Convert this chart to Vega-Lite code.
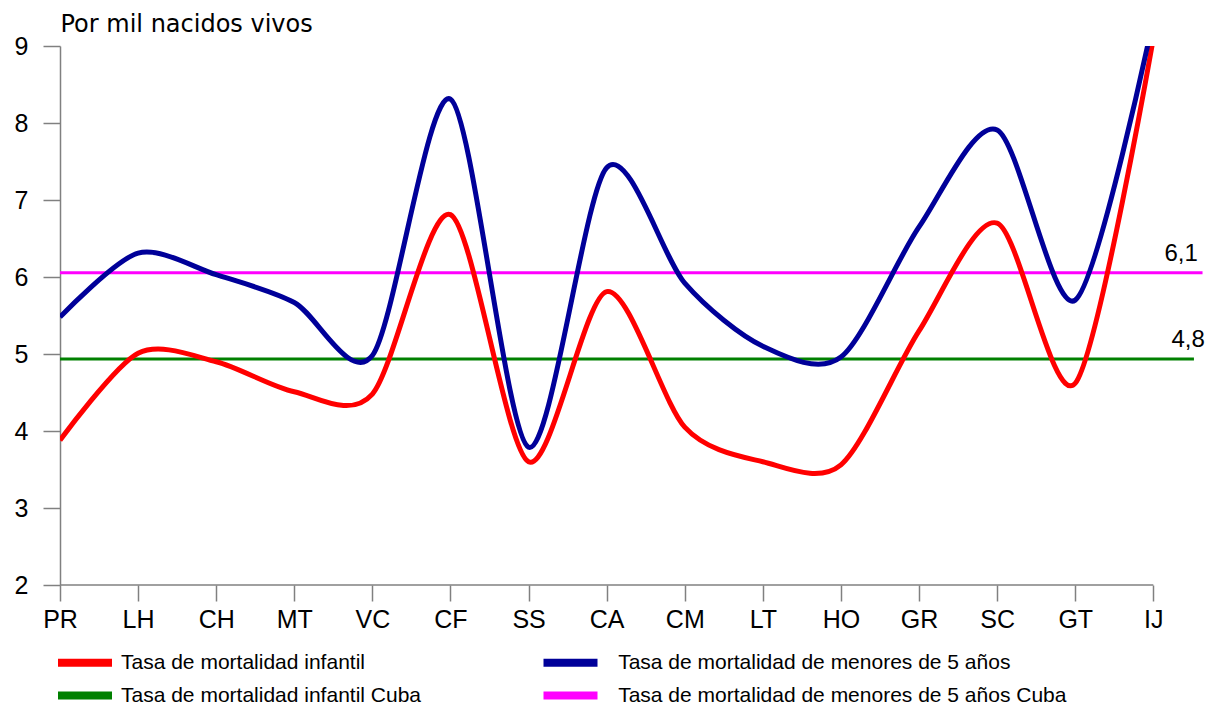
{
  "$schema": "https://vega.github.io/schema/vega-lite/v6.json",
  "width": 1148,
  "height": 539,
  "autosize": {"type": "none"},
  "padding": {"left": 60, "top": 46, "right": 0, "bottom": 119},
  "config": {"view": {"stroke": null}, "font": "Liberation Sans"},
  "datasets": {
    "series": [
      {"i": 0, "cat": "PR", "serie": "Tasa de mortalidad infantil", "v": 3.88},
      {"i": 1, "cat": "LH", "serie": "Tasa de mortalidad infantil", "v": 5.01},
      {"i": 2, "cat": "CH", "serie": "Tasa de mortalidad infantil", "v": 4.9},
      {"i": 3, "cat": "MT", "serie": "Tasa de mortalidad infantil", "v": 4.51},
      {"i": 4, "cat": "VC", "serie": "Tasa de mortalidad infantil", "v": 4.48},
      {"i": 5, "cat": "CF", "serie": "Tasa de mortalidad infantil", "v": 6.81},
      {"i": 6, "cat": "SS", "serie": "Tasa de mortalidad infantil", "v": 3.6},
      {"i": 7, "cat": "CA", "serie": "Tasa de mortalidad infantil", "v": 5.81},
      {"i": 8, "cat": "CM", "serie": "Tasa de mortalidad infantil", "v": 4.05},
      {"i": 9, "cat": "LT", "serie": "Tasa de mortalidad infantil", "v": 3.6},
      {"i": 10, "cat": "HO", "serie": "Tasa de mortalidad infantil", "v": 3.56},
      {"i": 11, "cat": "GR", "serie": "Tasa de mortalidad infantil", "v": 5.3},
      {"i": 12, "cat": "SC", "serie": "Tasa de mortalidad infantil", "v": 6.7},
      {"i": 13, "cat": "GT", "serie": "Tasa de mortalidad infantil", "v": 4.62},
      {"i": 14, "cat": "IJ", "serie": "Tasa de mortalidad infantil", "v": 9.1},
      {"i": 0, "cat": "PR", "serie": "Tasa de mortalidad de menores de 5 años", "v": 5.48},
      {"i": 1, "cat": "LH", "serie": "Tasa de mortalidad de menores de 5 años", "v": 6.31},
      {"i": 2, "cat": "CH", "serie": "Tasa de mortalidad de menores de 5 años", "v": 6.03},
      {"i": 3, "cat": "MT", "serie": "Tasa de mortalidad de menores de 5 años", "v": 5.67},
      {"i": 4, "cat": "VC", "serie": "Tasa de mortalidad de menores de 5 años", "v": 4.98},
      {"i": 5, "cat": "CF", "serie": "Tasa de mortalidad de menores de 5 años", "v": 8.31},
      {"i": 6, "cat": "SS", "serie": "Tasa de mortalidad de menores de 5 años", "v": 3.79},
      {"i": 7, "cat": "CA", "serie": "Tasa de mortalidad de menores de 5 años", "v": 7.42},
      {"i": 8, "cat": "CM", "serie": "Tasa de mortalidad de menores de 5 años", "v": 5.92},
      {"i": 9, "cat": "LT", "serie": "Tasa de mortalidad de menores de 5 años", "v": 5.1},
      {"i": 10, "cat": "HO", "serie": "Tasa de mortalidad de menores de 5 años", "v": 4.96},
      {"i": 11, "cat": "GR", "serie": "Tasa de mortalidad de menores de 5 años", "v": 6.65},
      {"i": 12, "cat": "SC", "serie": "Tasa de mortalidad de menores de 5 años", "v": 7.91},
      {"i": 13, "cat": "GT", "serie": "Tasa de mortalidad de menores de 5 años", "v": 5.7},
      {"i": 14, "cat": "IJ", "serie": "Tasa de mortalidad de menores de 5 años", "v": 9.35}
    ],
    "cuba": [
      {"serie": "Tasa de mortalidad de menores de 5 años Cuba", "v": 6.056, "x0": 0, "xe": 14.63, "lx": 14.57, "label": "6,1"},
      {"serie": "Tasa de mortalidad infantil Cuba", "v": 4.935, "x0": 0, "xe": 14.52, "lx": 14.66, "label": "4,8"}
    ],
    "baseline": [{"x0": 0, "x1": 14, "v": 2}]
  },
  "layer": [
    {
      "data": {"name": "baseline"},
      "mark": {"type": "rule", "color": "#808080", "strokeWidth": 1.5},
      "encoding": {
        "x": {"field": "x0", "type": "quantitative"},
        "x2": {"field": "x1"},
        "y": {"field": "v", "type": "quantitative"}
      }
    },
    {
      "data": {"name": "cuba"},
      "mark": {"type": "rule", "strokeWidth": 3},
      "encoding": {
        "x": {"field": "x0", "type": "quantitative"},
        "x2": {"field": "xe"},
        "y": {"field": "v", "type": "quantitative"},
        "color": {"field": "serie", "type": "nominal"}
      }
    },
    {
      "data": {"name": "series"},
      "mark": {"type": "line", "interpolate": "cardinal", "tension": 0.15, "strokeWidth": 5, "clip": true},
      "encoding": {
        "x": {
          "field": "i", "type": "quantitative",
          "scale": {"domain": [0, 14.7], "nice": false, "zero": false},
          "axis": {
            "values": [0, 1, 2, 3, 4, 5, 6, 7, 8, 9, 10, 11, 12, 13, 14],
            "labelExpr": "['PR','LH','CH','MT','VC','CF','SS','CA','CM','LT','HO','GR','SC','GT','IJ'][datum.value]",
            "labelFlush": false,
            "domain": false, "grid": false, "title": null,
            "tickSize": 16, "tickColor": "#808080", "tickWidth": 1.5,
            "labelFontSize": 25, "labelColor": "#000000", "labelPadding": 6,
            "labelFont": "Liberation Sans"
          }
        },
        "y": {
          "field": "v", "type": "quantitative",
          "scale": {"domain": [2, 9], "nice": false, "zero": false},
          "axis": {
            "values": [2, 3, 4, 5, 6, 7, 8, 9],
            "format": "d",
            "labelFlush": false,
            "grid": false,
            "title": "Por mil nacidos vivos",
            "titleAngle": 0, "titleX": 0, "titleY": -15,
            "titleAlign": "left", "titleBaseline": "alphabetic",
            "titleFont": "DejaVu Sans", "titleFontSize": 24, "titleFontWeight": "normal", "titleColor": "#000000",
            "tickSize": 17, "tickColor": "#808080", "tickWidth": 1.5,
            "domainColor": "#808080", "domainWidth": 1.5,
            "labelFontSize": 25, "labelColor": "#000000", "labelPadding": 15,
            "labelFont": "Liberation Sans"
          }
        },
        "color": {
          "field": "serie", "type": "nominal",
          "scale": {
            "domain": ["Tasa de mortalidad infantil", "Tasa de mortalidad de menores de 5 años", "Tasa de mortalidad infantil Cuba", "Tasa de mortalidad de menores de 5 años Cuba"],
            "range": ["#ff0000", "#000099", "#008000", "#ff00ff"]
          },
          "legend": {
            "title": null,
            "orient": "none",
            "legendX": 14.5,
            "legendY": 606,
            "columns": 2,
            "direction": "horizontal",
            "symbolType": "M-5.4,0H5.4",
            "symbolSize": 100,
            "symbolStrokeWidth": 8,
            "labelFont": "Liberation Sans",
            "labelFontSize": 21,
            "labelColor": "#000000",
            "labelOffset": 25.5,
            "labelLimit": 600,
            "labelExpr": "(indexof(datum.label, 'menores') >= 0) ? ('\u200b\u00a0\u00a0' + datum.label) : datum.label",
            "columnPadding": 105.5,
            "rowPadding": 0
          }
        }
      }
    },
    {
      "data": {"name": "cuba"},
      "mark": {"type": "text", "align": "right", "baseline": "alphabetic", "dy": -12, "fontSize": 24, "font": "Liberation Sans", "color": "#000000"},
      "encoding": {
        "x": {"field": "lx", "type": "quantitative"},
        "y": {"field": "v", "type": "quantitative"},
        "text": {"field": "label"}
      }
    }
  ]
}
